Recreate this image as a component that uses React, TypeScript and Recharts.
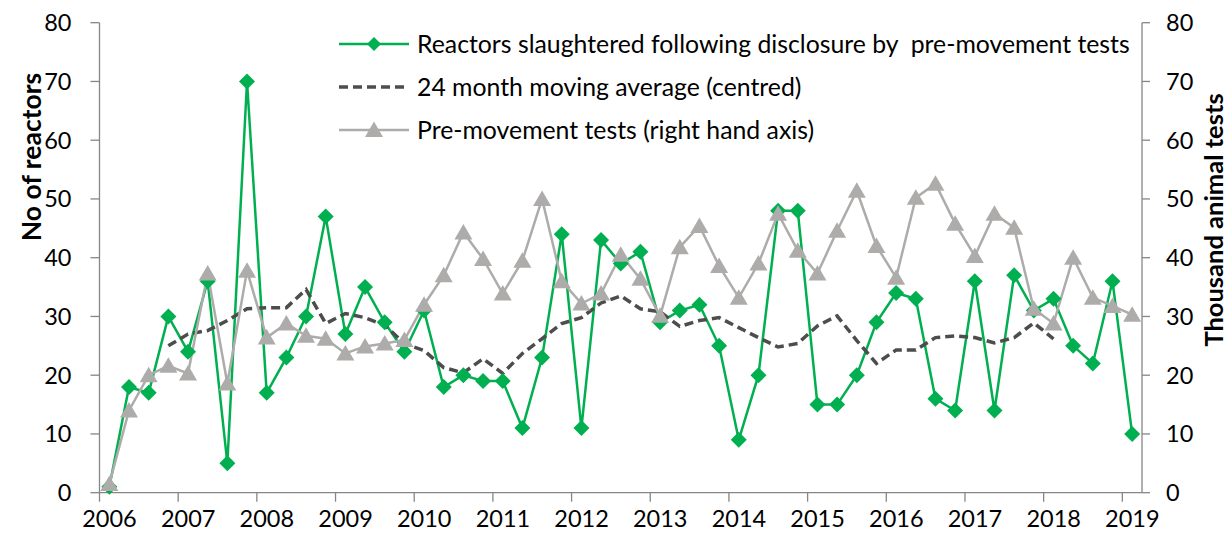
import React from 'react';
import { LineChart, Line, XAxis, YAxis, Legend } from 'recharts';

// quarterly figures, Q1 2006 .. Q1 2019
const years = [2006, 2007, 2008, 2009, 2010, 2011, 2012, 2013, 2014, 2015, 2016, 2017, 2018, 2019];
const valueTicks = [0, 10, 20, 30, 40, 50, 60, 70, 80];

const reactors = [
    1, 18, 17, 30, 24, 36, 5, 70, 17, 23, 30, 47, 27, 35, 29, 24, 31, 18, 20, 19,
    19, 11, 23, 44, 11, 43, 39, 41, 29, 31, 32, 25, 9, 20, 48, 48, 15, 15, 20, 29,
    34, 33, 16, 14, 36, 14, 37, 31, 33, 25, 22, 36, 10,
];

const movingAverage: (number | null)[] = [
    null, null, null, 25, 27, 27.6, 29.3, 31.3, 31.5, 31.5, 34.6, 28.8, 30.5, 29.8, 28.5, 25.4, 24.2, 21.3, 20.4, 22.8,
    20.3, 23.7, 26.2, 28.8, 29.8, 32.3, 33.5, 31.3, 30.8, 28.3, 29.3, 29.8, 28.1, 26.4, 24.8, 25.4, 28.4, 30.1, 25.9, 22,
    24.3, 24.3, 26.4, 26.7, 26.4, 25.5, 26.4, 28.9, 26.2, null, null, null, null,
];

// thousand animal tests (right hand axis)
const preMovementTests = [
    1.5, 14, 20, 21.6, 20.3, 37.3, 18.6, 37.8, 26.4, 28.8, 26.7, 26.2, 23.7, 24.9, 25.4, 26, 32, 37, 44.3, 39.8,
    33.9, 39.5, 50, 36, 32.2, 33.9, 40.5, 36.4, 30.1, 41.8, 45.4, 38.6, 33.2, 39, 47.5, 41.2, 37.3, 44.6, 51.4, 42,
    36.6, 50.2, 52.6, 45.8, 40.3, 47.5, 45.1, 31.3, 28.8, 40, 33.2, 31.8, 30.3,
];

const GREEN = '#00B050';
const GREY = '#AEABAB';
const DARK = '#4D4D4D';
const AXIS = '#868686';
const FONT = 'Lato, "Open Sans", sans-serif';

// each point sits in the middle of its quarter
const chartData = reactors.map((r, i) => ({
    t: years[0] + Math.floor(i / 4) + ((i % 4) * 3 + 1.5) / 12,
    reactors: r,
    average: movingAverage[i],
    tests: preMovementTests[i],
}));

const diamondPath = (cx: number, cy: number, r: number) =>
    `M${cx},${cy - r}L${cx + r},${cy}L${cx},${cy + r}L${cx - r},${cy}Z`;

const trianglePath = (cx: number, cy: number) =>
    `M${cx},${cy - 8.5}L${cx + 9},${cy + 7}L${cx - 9},${cy + 7}Z`;

const DiamondDot = (props: any) => {
    const { cx, cy, index } = props;
    if (cx == null || cy == null) return <g key={`d-${index}`} />;
    return <path key={`d-${index}`} d={diamondPath(cx, cy, 8)} fill={GREEN} />;
};

const TriangleDot = (props: any) => {
    const { cx, cy, index } = props;
    if (cx == null || cy == null) return <g key={`t-${index}`} />;
    return <path key={`t-${index}`} d={trianglePath(cx, cy)} fill={GREY} />;
};

const legendRows = [
    { label: 'Reactors slaughtered following disclosure by  pre-movement tests', kind: 'diamond' },
    { label: '24 month moving average (centred)', kind: 'dash' },
    { label: 'Pre-movement tests (right hand axis)', kind: 'triangle' },
];

const LegendContent = () => (
    <div style={{ fontFamily: FONT }}>
        {legendRows.map(row => (
            <div key={row.label} style={{ display: 'flex', alignItems: 'center', height: 43 }}>
                <svg width={72} height={22} style={{ marginRight: 7 }}>
                    {row.kind === 'diamond' && (
                        <>
                            <line x1={1} y1={11} x2={71} y2={11} stroke={GREEN} strokeWidth={2.5} />
                            <path d={diamondPath(36, 11, 7)} fill={GREEN} />
                        </>
                    )}
                    {row.kind === 'dash' && (
                        <line x1={1} y1={11} x2={71} y2={11} stroke={DARK} strokeWidth={3.5} strokeDasharray="9 5" />
                    )}
                    {row.kind === 'triangle' && (
                        <>
                            <line x1={1} y1={11} x2={71} y2={11} stroke={GREY} strokeWidth={2.5} />
                            <path d={trianglePath(36, 11)} fill={GREY} />
                        </>
                    )}
                </svg>
                <span style={{ fontSize: 24.8, color: '#000', whiteSpace: 'pre' }}>{row.label}</span>
            </div>
        ))}
    </div>
);

const leftTitle = () => (
    <text x={41} y={157} transform="rotate(-90 41 157)" textAnchor="middle"
        fontFamily={FONT} fontSize={26.5} fontWeight="bold" fill="#000">
        No of reactors
    </text>
);

const rightTitle = () => (
    <text x={1223} y={220} transform="rotate(-90 1223 220)" textAnchor="middle"
        fontFamily={FONT} fontSize={25.5} fontWeight="bold" fill="#000">
        Thousand animal tests
    </text>
);

const App: React.FC = () => {
    const tickStyle = { fill: '#000', fontSize: 23.5, fontFamily: FONT };
    return (
        <div style={{ position: 'absolute', left: 0, top: 0, width: 1231, height: 539, background: '#fff', fontFamily: FONT }}>
            <LineChart width={1231} height={539} data={chartData}
                margin={{ top: 22.7, right: 0, bottom: 0, left: 0 }}>
                <XAxis
                    dataKey="t"
                    type="number"
                    domain={[2006, 2019.25]}
                    ticks={years}
                    interval={0}
                    height={46.3}
                    stroke={AXIS}
                    tickSize={9}
                    tickMargin={9}
                    tick={{ ...tickStyle, dx: 10 }}
                    axisLine={{ stroke: AXIS, strokeWidth: 1.3 }}
                    tickLine={{ stroke: AXIS, strokeWidth: 1.3 }}
                />
                <YAxis
                    yAxisId="left"
                    domain={[0, 80]}
                    ticks={valueTicks}
                    interval={0}
                    width={99.5}
                    tickSize={9}
                    tickMargin={19}
                    tick={tickStyle}
                    axisLine={{ stroke: AXIS, strokeWidth: 1.3 }}
                    tickLine={{ stroke: AXIS, strokeWidth: 1.3 }}
                    label={{ content: leftTitle }}
                />
                <YAxis
                    yAxisId="right"
                    orientation="right"
                    domain={[0, 80]}
                    ticks={valueTicks}
                    interval={0}
                    width={89}
                    tickSize={8}
                    tickMargin={16}
                    tick={tickStyle}
                    axisLine={{ stroke: AXIS, strokeWidth: 1.3 }}
                    tickLine={{ stroke: AXIS, strokeWidth: 1.3 }}
                    label={{ content: rightTitle }}
                />
                <Legend
                    layout="vertical"
                    align="center"
                    verticalAlign="middle"
                    content={LegendContent}
                    wrapperStyle={{ top: 22, left: 338, width: 'auto' }}
                />
                <Line
                    yAxisId="left"
                    dataKey="reactors"
                    stroke={GREEN}
                    strokeWidth={2.5}
                    dot={DiamondDot}
                    activeDot={false}
                    isAnimationActive={false}
                />
                <Line
                    yAxisId="left"
                    dataKey="average"
                    stroke={DARK}
                    strokeWidth={3.5}
                    strokeDasharray="9 5"
                    dot={false}
                    activeDot={false}
                    isAnimationActive={false}
                />
                <Line
                    yAxisId="right"
                    dataKey="tests"
                    stroke={GREY}
                    strokeWidth={2.5}
                    dot={TriangleDot}
                    activeDot={false}
                    isAnimationActive={false}
                />
            </LineChart>
        </div>
    );
};

export default App;
